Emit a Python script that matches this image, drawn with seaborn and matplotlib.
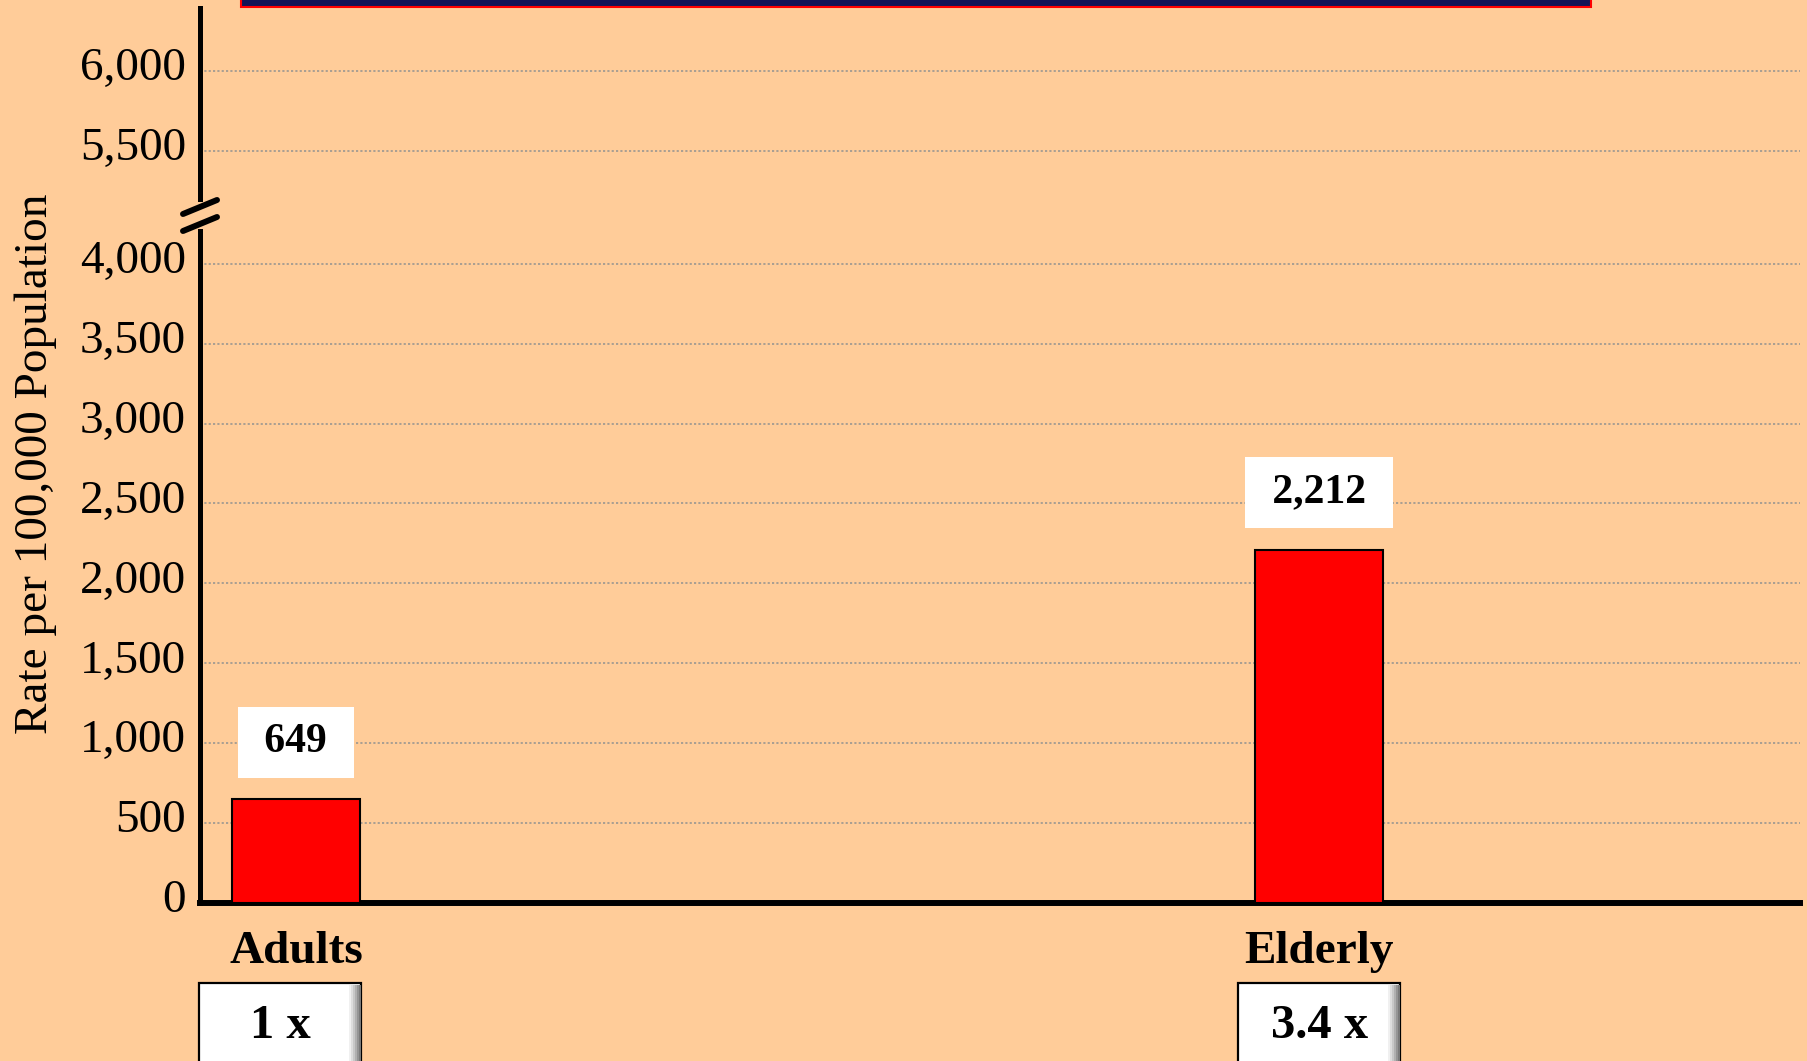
import matplotlib
matplotlib.use("Agg")
import matplotlib.pyplot as plt
import matplotlib.transforms as mtransforms
from matplotlib.patches import Rectangle
from matplotlib.lines import Line2D
import seaborn as sns

# -------------------------------
# Data
# -------------------------------
groups = ["Adults", "Elderly"]
rates = [649, 2212]
ratios = ["1 x", "3.4 x"]

low_ticks = [0, 500, 1000, 1500, 2000, 2500, 3000, 3500, 4000]
high_ticks = [5500, 6000]

# -------------------------------
# Style
# -------------------------------
sns.set_theme(style="white")
plt.rcParams["font.family"] = ["Liberation Serif", "DejaVu Serif"]
plt.rcParams["text.color"] = "black"
plt.rcParams["axes.labelcolor"] = "black"
plt.rcParams["xtick.color"] = "black"
plt.rcParams["ytick.color"] = "black"

bg = "#ffcc99"
grid_kw = dict(color="#a39b92", linewidth=1.3, linestyle=(0, (1.2, 1.2)))

W, H = 1807, 1061
fig = plt.figure(figsize=(W / 100, H / 100), dpi=100, facecolor=bg)

def fy(py):
    return 1 - py / H

# lower (0 - 4,200) and upper (5,200 - 6,400) parts of the broken axis
ax_lo = fig.add_axes([200 / W, fy(903), 1600 / W, (903 - 231) / H])
ax_hi = fig.add_axes([200 / W, fy(199), 1600 / W, (199 - 8) / H])

sns.barplot(x=groups, y=rates, ax=ax_lo, color="red", saturation=1,
            edgecolor="black", linewidth=1.5, width=0.125, zorder=3)

xlim = (-0.0938, 1.470)
lift = mtransforms.ScaledTranslation(0, 7 / 100, fig.dpi_scale_trans)
for ax in (ax_lo, ax_hi):
    ax.set_facecolor(bg)
    ax.set_xlim(xlim)
    ax.set_axisbelow(True)
    ax.yaxis.grid(True, **grid_kw)
    ax.xaxis.grid(False)
    for s in ("top", "right", "bottom"):
        ax.spines[s].set_visible(False)
    ax.spines["left"].set_linewidth(3.6)
    ax.spines["left"].set_color("black")
    ax.tick_params(axis="y", length=0, pad=10, labelsize=34, colors="black")

ax_lo.set_ylim(0, 4205)
ax_hi.set_ylim(5200, 6395)

ax_lo.set_yticks(low_ticks)
ax_lo.set_yticklabels([f"{t:,}" for t in low_ticks])
ax_hi.set_yticks(high_ticks)
ax_hi.set_yticklabels([f"{t:,}" for t in high_ticks])
ax_hi.set_xticks([])
for ax in (ax_lo, ax_hi):
    for lab in ax.get_yticklabels():
        lab.set_transform(lab.get_transform() + lift)

ax_lo.spines["bottom"].set_visible(True)
ax_lo.spines["bottom"].set_linewidth(4.3)
ax_lo.spines["bottom"].set_color("black")
ax_lo.spines["bottom"].set_capstyle("projecting")
ax_lo.set_xlabel("")
ax_lo.set_ylabel("")
ax_lo.tick_params(axis="x", length=0, pad=20)
ax_lo.set_xticks(range(len(groups)))
ax_lo.set_xticklabels(groups, fontsize=34, fontweight="bold", color="black")

# value labels in white boxes above the bars
for i, v in enumerate(rates):
    ax_lo.annotate(f" {v:,} ", xy=(i, v), xytext=(0, 41), textcoords="offset points",
                   ha="center", va="center", fontsize=30, fontweight="bold", color="black",
                   bbox=dict(boxstyle="square,pad=0.4", facecolor="white", edgecolor="none"),
                   zorder=5, annotation_clip=False)

# ratio boxes under the category names
trans = mtransforms.blended_transform_factory(ax_lo.transData, fig.transFigure)
bw = 162 / 1023
box_shift = [-16 / 1023, 0]
for i, r in enumerate(ratios):
    xc = i + box_shift[i]
    x0 = xc - bw / 2
    ax_lo.add_patch(Rectangle((x0, fy(1075)), bw, fy(983) - fy(1075), transform=trans,
                              facecolor="white", edgecolor="black", linewidth=1.6,
                              clip_on=False, zorder=4))
    # soft shadow on the right edge
    for k, shade in enumerate(["#f0f0f0", "#dddddd", "#c8c8c8", "#b0b0b0", "#959595", "#7a7a7a"]):
        sx = x0 + bw - (12 - 2 * k) / 1023
        ax_lo.add_patch(Rectangle((sx, fy(1075)), 2 / 1023, fy(985) - fy(1075), transform=trans,
                                  facecolor=shade, edgecolor="none", clip_on=False, zorder=4))
    ax_lo.text(xc, fy(1026), r, transform=trans, ha="center", va="center",
               fontsize=35, fontweight="bold", color="black", zorder=6)

# axis break marks
for y1, y2 in [(214, 200), (231, 217)]:
    fig.add_artist(Line2D([183 / W, 217 / W], [fy(y1), fy(y2)], color="black",
                          linewidth=4.3, transform=fig.transFigure, zorder=10))

# y axis title
fig.text(36 / W, fy(464), "Rate per 100,000 Population", rotation=90,
         ha="center", va="center", fontsize=34, color="black")

# bottom edge of the title banner
fig.add_artist(Rectangle((241 / W, fy(7)), 1350 / W, 30 / H, transform=fig.transFigure,
                         facecolor="#131357", edgecolor="#ff0000", linewidth=1.5, zorder=10))

fig.savefig("out.png", dpi=100, facecolor=bg)
